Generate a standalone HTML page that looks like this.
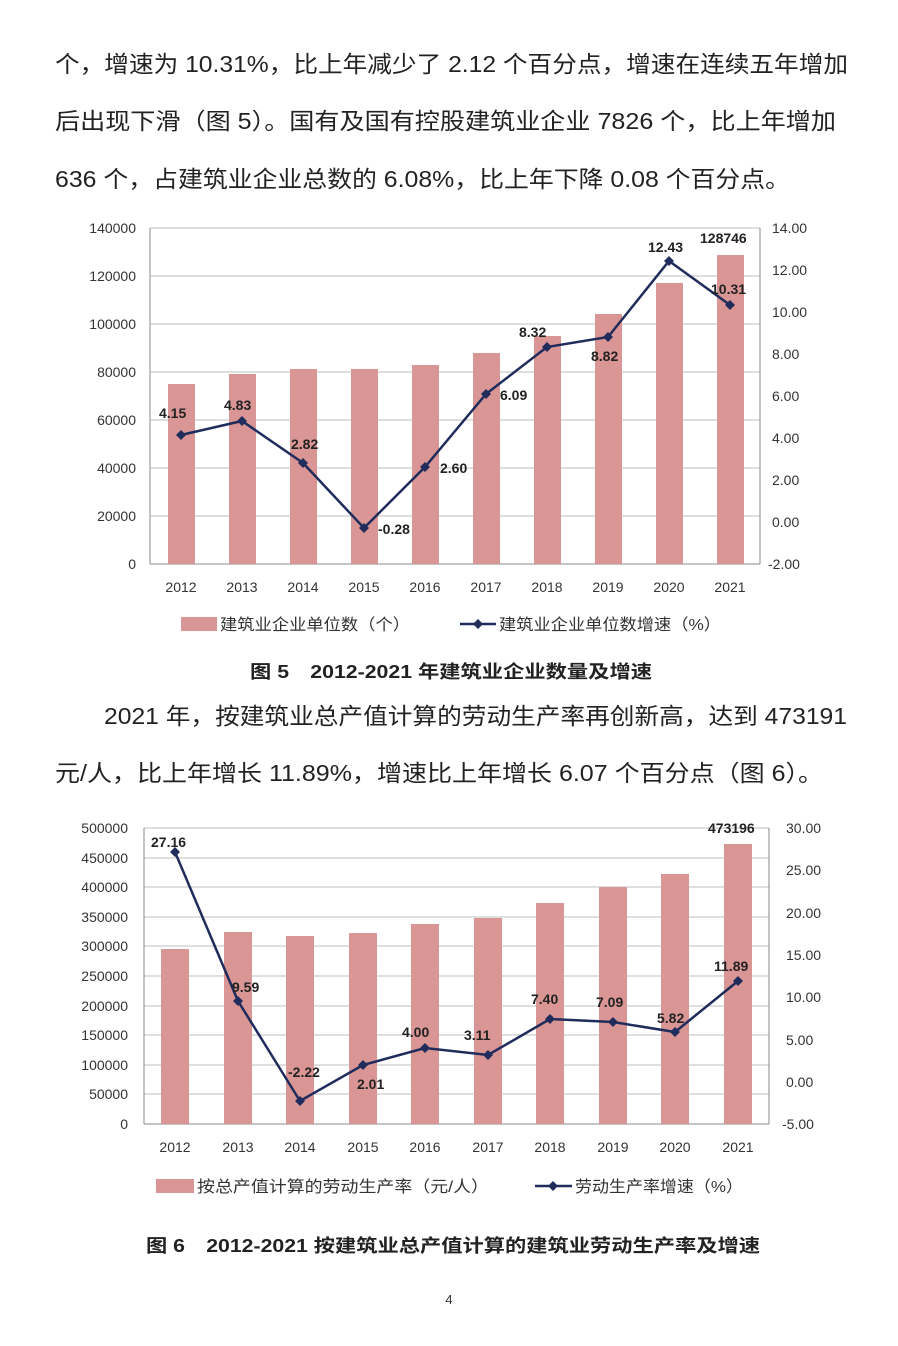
<!DOCTYPE html>
<html><head><meta charset="utf-8"><style>
body{margin:0;background:#fff}
svg text{font-family:"Liberation Sans","Noto Sans CJK SC",sans-serif}
</style></head><body>
<svg width="898" height="1341" viewBox="0 0 898 1341" xmlns="http://www.w3.org/2000/svg">
<g font-size="23" fill="#222" lengthAdjust="spacingAndGlyphs">
<text x="55" y="72" textLength="793" lengthAdjust="spacingAndGlyphs">个，增速为 10.31%，比上年减少了 2.12 个百分点，增速在连续五年增加</text>
<text x="55" y="129" textLength="781" lengthAdjust="spacingAndGlyphs">后出现下滑（图 5）。国有及国有控股建筑业企业 7826 个，比上年增加</text>
<text x="55" y="187" textLength="735" lengthAdjust="spacingAndGlyphs">636 个，占建筑业企业总数的 6.08%，比上年下降 0.08 个百分点。</text>
<text x="104" y="724" textLength="743" lengthAdjust="spacingAndGlyphs">2021 年，按建筑业总产值计算的劳动生产率再创新高，达到 473191</text>
<text x="55" y="781" textLength="768" lengthAdjust="spacingAndGlyphs">元/人，比上年增长 11.89%，增速比上年增长 6.07 个百分点（图 6）。</text>
</g>

<!-- Chart 1 -->
<g stroke="#bfbfbf" stroke-width="1">
<line x1="150" y1="228" x2="760" y2="228"/><line x1="150" y1="276" x2="760" y2="276"/>
<line x1="150" y1="324" x2="760" y2="324"/><line x1="150" y1="372" x2="760" y2="372"/>
<line x1="150" y1="420" x2="760" y2="420"/><line x1="150" y1="468" x2="760" y2="468"/>
<line x1="150" y1="516" x2="760" y2="516"/>
</g>
<g stroke="#888"><line x1="150" y1="564" x2="760" y2="564"/><line x1="150" y1="228" x2="150" y2="564"/><line x1="760" y1="228" x2="760" y2="564"/></g>
<g fill="#d99694">
<rect x="168" y="384" width="27" height="180"/><rect x="229" y="374" width="27" height="190"/>
<rect x="290" y="369" width="27" height="195"/><rect x="351" y="369" width="27" height="195"/>
<rect x="412" y="365" width="27" height="199"/><rect x="473" y="353" width="27" height="211"/>
<rect x="534" y="336" width="27" height="228"/><rect x="595" y="314" width="27" height="250"/>
<rect x="656" y="283" width="27" height="281"/><rect x="717" y="255" width="27" height="309"/>
</g>
<g font-size="14" fill="#333" text-anchor="end">
<text x="136" y="233">140000</text><text x="136" y="281">120000</text><text x="136" y="329">100000</text>
<text x="136" y="377">80000</text><text x="136" y="425">60000</text><text x="136" y="473">40000</text>
<text x="136" y="521">20000</text><text x="136" y="569">0</text>
</g>
<g font-size="14" fill="#333">
<text x="772" y="233">14.00</text><text x="772" y="275">12.00</text><text x="772" y="317">10.00</text>
<text x="772" y="359">8.00</text><text x="772" y="401">6.00</text><text x="772" y="443">4.00</text>
<text x="772" y="485">2.00</text><text x="772" y="527">0.00</text><text x="768" y="569">-2.00</text>
</g>
<g font-size="14" fill="#333" text-anchor="middle">
<text x="181" y="592">2012</text><text x="242" y="592">2013</text><text x="303" y="592">2014</text><text x="364" y="592">2015</text><text x="425" y="592">2016</text><text x="486" y="592">2017</text><text x="547" y="592">2018</text><text x="608" y="592">2019</text><text x="669" y="592">2020</text><text x="730" y="592">2021</text>
</g>
<polyline fill="none" stroke="#1f2c5c" stroke-width="2.5" points="181,435 242,421 303,463 364,528 425,467 486,394 547,347 608,337 669,261 730,305"/>
<g fill="#1f2c5c">
<path d="M181,430l5,5-5,5-5-5z"/><path d="M242,416l5,5-5,5-5-5z"/><path d="M303,458l5,5-5,5-5-5z"/><path d="M364,523l5,5-5,5-5-5z"/><path d="M425,462l5,5-5,5-5-5z"/><path d="M486,389l5,5-5,5-5-5z"/><path d="M547,342l5,5-5,5-5-5z"/><path d="M608,332l5,5-5,5-5-5z"/><path d="M669,256l5,5-5,5-5-5z"/><path d="M730,300l5,5-5,5-5-5z"/>
</g>
<g font-size="14" font-weight="bold" fill="#222">
<text x="159" y="418">4.15</text><text x="224" y="410">4.83</text><text x="291" y="449">2.82</text><text x="378" y="534">-0.28</text><text x="440" y="473">2.60</text><text x="500" y="400">6.09</text><text x="519" y="337">8.32</text><text x="591" y="361">8.82</text><text x="648" y="252">12.43</text><text x="700" y="243">128746</text><text x="711" y="294">10.31</text>
</g>
<rect x="181" y="617" width="36" height="14" fill="#d99694"/>
<text x="220" y="630" font-size="16" fill="#333" textLength="190" lengthAdjust="spacingAndGlyphs">建筑业企业单位数（个）</text>
<line x1="460" y1="624" x2="496" y2="624" stroke="#1f2c5c" stroke-width="2.5"/><path d="M478,619l5,5-5,5-5-5z" fill="#1f2c5c"/>
<text x="499" y="630" font-size="16" fill="#333" textLength="222" lengthAdjust="spacingAndGlyphs">建筑业企业单位数增速（%）</text>
<text x="250" y="678" font-size="18" font-weight="bold" fill="#222" textLength="402" lengthAdjust="spacingAndGlyphs">图 5　2012-2021 年建筑业企业数量及增速</text>

<!-- Chart 2 -->
<g stroke="#bfbfbf" stroke-width="1">
<line x1="144" y1="828" x2="769" y2="828"/><line x1="144" y1="858" x2="769" y2="858"/><line x1="144" y1="887" x2="769" y2="887"/><line x1="144" y1="917" x2="769" y2="917"/><line x1="144" y1="946" x2="769" y2="946"/><line x1="144" y1="976" x2="769" y2="976"/><line x1="144" y1="1006" x2="769" y2="1006"/><line x1="144" y1="1035" x2="769" y2="1035"/><line x1="144" y1="1065" x2="769" y2="1065"/><line x1="144" y1="1094" x2="769" y2="1094"/>
</g>
<g stroke="#888"><line x1="144" y1="1124" x2="769" y2="1124"/><line x1="144" y1="828" x2="144" y2="1124"/><line x1="769" y1="828" x2="769" y2="1124"/></g>
<g fill="#d99694">
<rect x="161" y="949" width="28" height="175"/><rect x="224" y="932" width="28" height="192"/><rect x="286" y="936" width="28" height="188"/><rect x="349" y="933" width="28" height="191"/><rect x="411" y="924" width="28" height="200"/><rect x="474" y="918" width="28" height="206"/><rect x="536" y="903" width="28" height="221"/><rect x="599" y="887" width="28" height="237"/><rect x="661" y="874" width="28" height="250"/><rect x="724" y="844" width="28" height="280"/>
</g>
<g font-size="14" fill="#333" text-anchor="end">
<text x="128" y="833">500000</text><text x="128" y="863">450000</text><text x="128" y="892">400000</text><text x="128" y="922">350000</text><text x="128" y="951">300000</text><text x="128" y="981">250000</text><text x="128" y="1011">200000</text><text x="128" y="1040">150000</text><text x="128" y="1070">100000</text><text x="128" y="1099">50000</text><text x="128" y="1129">0</text>
</g>
<g font-size="14" fill="#333">
<text x="786" y="833">30.00</text><text x="786" y="875">25.00</text><text x="786" y="918">20.00</text><text x="786" y="960">15.00</text><text x="786" y="1002">10.00</text><text x="786" y="1045">5.00</text><text x="786" y="1087">0.00</text><text x="782" y="1129">-5.00</text>
</g>
<g font-size="14" fill="#333" text-anchor="middle">
<text x="175" y="1152">2012</text><text x="238" y="1152">2013</text><text x="300" y="1152">2014</text><text x="363" y="1152">2015</text><text x="425" y="1152">2016</text><text x="488" y="1152">2017</text><text x="550" y="1152">2018</text><text x="613" y="1152">2019</text><text x="675" y="1152">2020</text><text x="738" y="1152">2021</text>
</g>
<polyline fill="none" stroke="#1f2c5c" stroke-width="2.5" points="175,852 238,1001 300,1101 363,1065 425,1048 488,1055 550,1019 613,1022 675,1032 738,981"/>
<g fill="#1f2c5c">
<path d="M175,847l5,5-5,5-5-5z"/><path d="M238,996l5,5-5,5-5-5z"/><path d="M300,1096l5,5-5,5-5-5z"/><path d="M363,1060l5,5-5,5-5-5z"/><path d="M425,1043l5,5-5,5-5-5z"/><path d="M488,1050l5,5-5,5-5-5z"/><path d="M550,1014l5,5-5,5-5-5z"/><path d="M613,1017l5,5-5,5-5-5z"/><path d="M675,1027l5,5-5,5-5-5z"/><path d="M738,976l5,5-5,5-5-5z"/>
</g>
<g font-size="14" font-weight="bold" fill="#222">
<text x="151" y="847">27.16</text><text x="232" y="992">9.59</text><text x="288" y="1077">-2.22</text><text x="357" y="1089">2.01</text><text x="402" y="1037">4.00</text><text x="464" y="1040">3.11</text><text x="531" y="1004">7.40</text><text x="596" y="1007">7.09</text><text x="657" y="1023">5.82</text><text x="708" y="833">473196</text><text x="714" y="971">11.89</text>
</g>
<rect x="156" y="1179" width="38" height="14" fill="#d99694"/>
<text x="197" y="1192" font-size="16" fill="#333" textLength="292" lengthAdjust="spacingAndGlyphs">按总产值计算的劳动生产率（元/人）</text>
<line x1="535" y1="1186" x2="572" y2="1186" stroke="#1f2c5c" stroke-width="2.5"/><path d="M553,1181l5,5-5,5-5-5z" fill="#1f2c5c"/>
<text x="575" y="1192" font-size="16" fill="#333" textLength="168" lengthAdjust="spacingAndGlyphs">劳动生产率增速（%）</text>
<text x="146" y="1252" font-size="18" font-weight="bold" fill="#222" textLength="614" lengthAdjust="spacingAndGlyphs">图 6　2012-2021 按建筑业总产值计算的建筑业劳动生产率及增速</text>
<text x="449" y="1304" font-size="13" fill="#333" text-anchor="middle">4</text>
</svg>
</body></html>
